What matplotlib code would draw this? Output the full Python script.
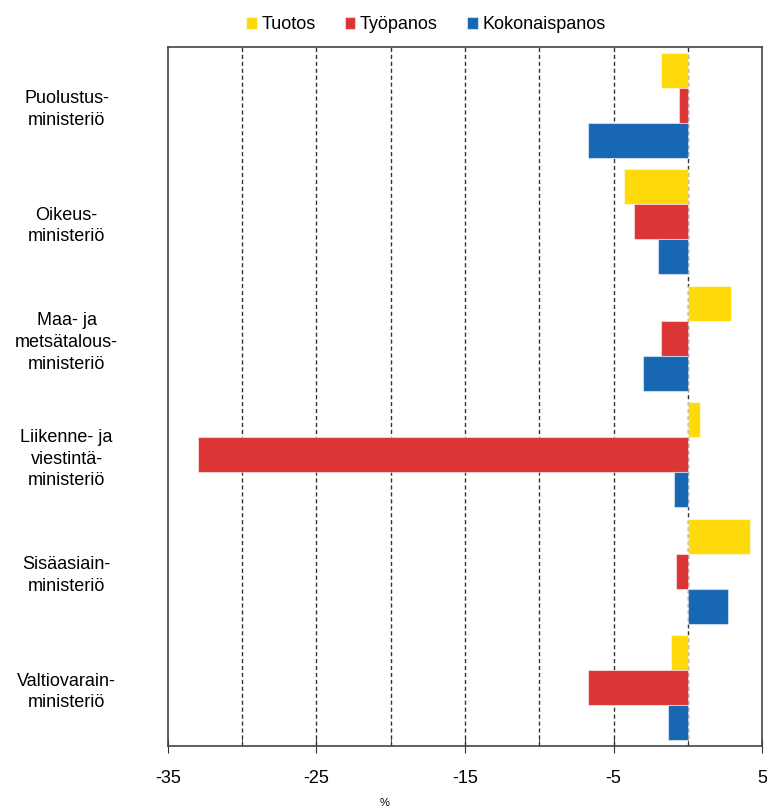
import numpy as np
import matplotlib.pyplot as plt
from matplotlib.ticker import MultipleLocator

plt.rcParams['font.family'] = ['Liberation Sans', 'DejaVu Sans']
plt.rcParams['axes.unicode_minus'] = False

categories = ["Puolustus-\nministeriö", "Oikeus-\nministeriö", "Maa- ja\nmetsätalous-\nministeriö",
              "Liikenne- ja\nviestintä-\nministeriö", "Sisäasiain-\nministeriö", "Valtiovarain-\nministeriö"]
series = ["Tuotos", "Työpanos", "Kokonaispanos"]
tuotos = [-1.8, -4.3, 2.9, 0.8, 4.2, -1.1]
tyopanos = [-0.6, -3.6, -1.8, -33.0, -0.8, -6.7]
kokonais = [-6.7, -2.0, -3.0, -0.9, 2.7, -1.3]
values = [tuotos, tyopanos, kokonais]
colors = ['#FFDA0A', '#DB3536', '#1867B2']

fig = plt.figure(figsize=(7.67, 8.07), dpi=100)
ax = fig.add_axes([168/767, 1 - 746/807, 594/767, 699/807])

y = np.arange(len(categories))
h = 0.3
for k in range(3):
    ax.barh(y + (k - 1) * h, values[k], height=h, color=colors[k], label=series[k],
            edgecolor=(1, 1, 1, 0.5), linewidth=0.8, zorder=3)

ax.set_xlim(-35, 5)
ax.set_ylim(len(categories) - 0.5, -0.5)
ax.set_yticks(y)
ax.set_yticklabels(categories, ha='center', fontsize=13, linespacing=1.35)
ax.tick_params(axis='y', length=0, pad=73)
ax.set_xticks([-35, -25, -15, -5, 5])
ax.xaxis.set_minor_locator(MultipleLocator(5))
ax.tick_params(axis='x', which='major', direction='inout', length=10, labelsize=13, pad=12, color='#333333')
ax.tick_params(axis='x', which='minor', direction='in', length=5, color='#333333')
for gx in [-30, -25, -20, -15, -10, -5, 0]:
    ax.axvline(gx, color='#333333', linestyle=(0, (3, 2)), linewidth=1.0, zorder=1)
for s in ax.spines.values():
    s.set_color('#444444')
    s.set_linewidth(1.2)

ax.set_xlabel('%', fontsize=8, labelpad=4)
ax.xaxis.set_label_coords(0.365, -0.075)

leg = fig.legend(loc='upper center', bbox_to_anchor=(0.555, 1.0), ncol=3, frameon=False,
                 fontsize=13, handlelength=0.6, handleheight=0.6, handletextpad=0.25, columnspacing=1.6)

fig.savefig('out.png', dpi=100)
